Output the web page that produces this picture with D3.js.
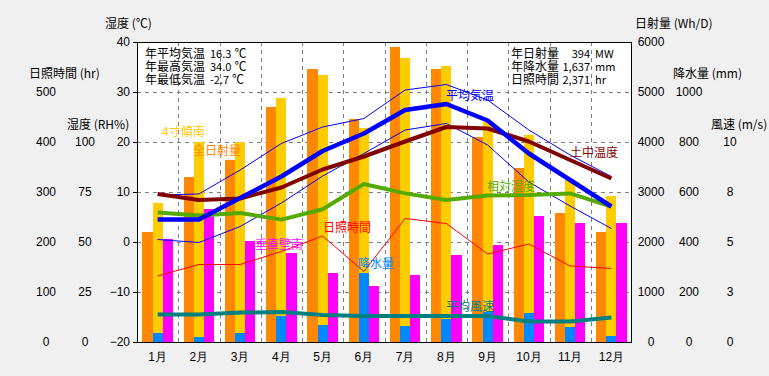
<!DOCTYPE html>
<html>
<head>
<meta charset="utf-8">
<script src="https://cdn.jsdelivr.net/npm/d3@7"></script>
<style>
  body { margin: 0; background: #f0f0f0; }
  svg { display: block; font-family: "Noto Sans CJK JP", "DejaVu Sans", sans-serif; font-size: 12px; }
</style>
</head>
<body>
<div id="wrapper"></div>
<script>
// 月ごとのデータ
const months = ["1月","2月","3月","4月","5月","6月","7月","8月","9月","10月","11月","12月"];
const radGlobal = [2210, 3310, 3640, 4710, 5460, 4460, 5910, 5460, 4110, 3490, 2590, 2210]; // 全日射量
const radTilt   = [2790, 4010, 4010, 4890, 5340, 4290, 5690, 5520, 4410, 4140, 3260, 2930]; // 4寸傾南
const radWall   = [2060, 2660, 2030, 1790, 1390, 1120, 1340, 1740, 1940, 2530, 2390, 2390]; // 垂直壁南
const precip    = [37, 21, 37, 105, 68, 277, 64, 92, 120, 117, 61, 24];                     // 降水量
const sunshine  = [132, 155, 155, 181, 212, 141, 247, 237, 176, 196, 152, 147];             // 日照時間
const tAvg  = [4.5, 4.5, 8.8, 13.1, 18.2, 21.7, 26.4, 27.6, 24.3, 17.7, 12.4, 7.1];
const tMax  = [9.4, 9.6, 14.4, 19.7, 23.0, 24.7, 30.4, 31.5, 28.4, 22.4, 17.4, 13.1];
const tMin  = [0.5, -0.1, 3.1, 7.8, 13.2, 17.7, 22.4, 23.7, 19.4, 12.0, 7.2, 2.7];
const tSoil = [9.6, 8.4, 8.7, 10.9, 14.5, 17.1, 20.1, 23.0, 22.7, 20.1, 16.4, 12.7];
const rh    = [64.7, 63.2, 64.5, 61.2, 66.4, 79.0, 74.3, 71.0, 73.2, 73.5, 74.3, 67.7];
const wind  = [1.38, 1.38, 1.47, 1.5, 1.35, 1.3, 1.3, 1.3, 1.3, 1.02, 1.02, 1.22];

// 軸の目盛り
const tempTicks = [-20, -10, 0, 10, 20, 30, 40];
const hrTicks = [0, 100, 200, 300, 400, 500];
const rhTicks = [0, 25, 50, 75, 100];
const radTicks = [0, 1000, 2000, 3000, 4000, 5000, 6000];
const preTicks = [0, 200, 400, 600, 800, 1000];
const windTicks = [0, 2.5, 5, 7.5, 10];

const statsLeft = [["年平均気温", "16.3", "℃"], ["年最高気温", "34.0", "℃"], ["年最低気温", "-2.7", "℃"]];
const statsRight = [["年日射量", "394", "MW"], ["年降水量", "1,637", "mm"], ["日照時間", "2,371", "hr"]];

const dim = { width: 769, height: 376, left: 137, right: 632, top: 42, bottom: 342 };

const svg = d3.select("#wrapper").append("svg")
  .attr("width", dim.width).attr("height", dim.height);

const x = d3.scaleBand().domain(months).range([dim.left, dim.right]);
const xc = d => x(d) + x.bandwidth() / 2;
const xs = d3.scaleBand().domain(["g", "t", "w"]).range([0, x.bandwidth()]).paddingOuter(0.54);

const yT = d3.scaleLinear().domain([-20, 40]).range([dim.bottom, dim.top]);
const yRH = d3.scaleLinear().domain([0, 100]).range([dim.bottom, 142]);
const yHr = d3.scaleLinear().domain([0, 500]).range([dim.bottom, 92]);
const yRad = d3.scaleLinear().domain([0, 6000]).range([dim.bottom, dim.top]);
const yPre = d3.scaleLinear().domain([0, 1000]).range([dim.bottom, 92]);
const yWind = d3.scaleLinear().domain([0, 10]).range([dim.bottom, 142]);

// 描画領域
svg.append("rect")
  .attr("x", dim.left).attr("y", dim.top)
  .attr("width", dim.right - dim.left).attr("height", dim.bottom - dim.top)
  .attr("fill", "white");

// グリッド
const grid = svg.append("g").attr("stroke", "#808080").attr("stroke-dasharray", "4,4");
grid.selectAll("line.h").data(tempTicks.slice(1, -1)).join("line")
  .attr("x1", dim.left).attr("x2", dim.right)
  .attr("y1", d => Math.round(yT(d)) + 0.5).attr("y2", d => Math.round(yT(d)) + 0.5);
grid.selectAll("line.v").data(months.slice(1)).join("line")
  .attr("x1", d => Math.round(x(d)) + 0.5).attr("x2", d => Math.round(x(d)) + 0.5)
  .attr("y1", dim.top).attr("y2", dim.bottom);

// 棒グラフ
function bars(data, key, color, scale) {
  svg.append("g").selectAll("rect").data(data).join("rect")
    .attr("x", (d, i) => x(months[i]) + xs(key))
    .attr("width", xs.bandwidth())
    .attr("y", d => scale(d))
    .attr("height", d => dim.bottom - scale(d))
    .attr("fill", color)
    .attr("shape-rendering", "crispEdges");
}
bars(radGlobal, "g", "#ff8800", yRad);
bars(radTilt, "t", "#ffcc00", yRad);
bars(radWall, "w", "#ff00ff", yRad);
bars(precip, "t", "#0088ff", yPre);

// 折れ線
function drawLine(data, scale, color, width) {
  const line = d3.line()
    .x((d, i) => xc(months[i]))
    .y(d => scale(d));
  svg.append("path")
    .attr("d", line(data))
    .attr("fill", "none")
    .attr("stroke", color)
    .attr("stroke-width", width)
    .attr("stroke-linejoin", "round");
}
drawLine(sunshine, yHr, "#ff0000", 1);
drawLine(tMax, yT, "#0000ff", 1);
drawLine(tMin, yT, "#0000ff", 1);
drawLine(wind, yWind, "#008080", 4);
drawLine(rh, yRH, "#55aa00", 4);
drawLine(tSoil, yT, "#800000", 4);
drawLine(tAvg, yT, "#0000ff", 4.5);

// 枠線
svg.append("rect")
  .attr("x", dim.left + 0.5).attr("y", dim.top + 0.5)
  .attr("width", dim.right - dim.left - 1).attr("height", dim.bottom - dim.top)
  .attr("fill", "none").attr("stroke", "black");

// 温度軸
const tAxis = svg.append("g")
  .attr("transform", `translate(${dim.left},0)`)
  .call(d3.axisLeft(yT).tickValues(tempTicks).tickSize(4).tickPadding(3).tickFormat(d => d < 0 ? "\u2212" + (-d) : d));
tAxis.select(".domain").remove();
tAxis.selectAll("text").attr("font-size", 12).attr("font-family", null).attr("fill", "black");

// 他の目盛り列
function valueColumn(scale, ticks, cx, fmt) {
  const g = svg.append("g")
    .attr("transform", `translate(${cx},0)`)
    .call(d3.axisLeft(scale).tickValues(ticks).tickSize(0).tickFormat(fmt || (d => d)));
  g.select(".domain").remove();
  g.selectAll(".tick line").remove();
  g.selectAll("text").attr("x", 0).attr("text-anchor", "middle")
    .attr("font-size", 12).attr("font-family", null).attr("fill", "black");
}
valueColumn(yHr, hrTicks, 46);
valueColumn(yRH, rhTicks, 85);
valueColumn(yRad, radTicks, 651);
valueColumn(yPre, preTicks, 689);
valueColumn(yWind, windTicks, 730, d => Math.round(d));

// 月ラベル
const xAxis = svg.append("g")
  .attr("transform", `translate(0,${dim.bottom})`)
  .call(d3.axisBottom(x).tickSize(0).tickPadding(10));
xAxis.select(".domain").remove();
xAxis.selectAll("text").attr("font-size", 12).attr("font-family", null).attr("fill", "black");

// 軸タイトル
const titles = [
  ["湿度 (℃)", 105, 24], ["日照時間 (hr)", 29, 74], ["湿度 (RH%)", 67, 125],
  ["日射量 (Wh/D)", 635, 24], ["降水量 (mm)", 673, 74], ["風速 (m/s)", 711, 125]
];
svg.append("g").selectAll("text").data(titles).join("text")
  .attr("x", d => d[1]).attr("y", d => d[2])
  .attr("dy", "0.35em")
  .text(d => d[0]);

// 統計値
const st = svg.append("g");
statsLeft.forEach((s, i) => {
  const t = st.append("text").attr("x", 145).attr("y", 54 + i * 13).attr("dy", "0.35em");
  t.append("tspan").text(s[0]);
  t.append("tspan").attr("x", 210).attr("font-size", 11).text(s[1]);
  t.append("tspan").attr("dx", 3).text(s[2]);
});
statsRight.forEach((s, i) => {
  const y = 54 + i * 13;
  st.append("text").attr("x", 511).attr("y", y).attr("dy", "0.35em").text(s[0]);
  st.append("text").attr("x", 590).attr("y", y).attr("dy", "0.35em")
    .attr("text-anchor", "end").attr("font-size", 11).text(s[1]);
  st.append("text").attr("x", 595).attr("y", y).attr("dy", "0.35em").attr("font-size", 11).text(s[2]);
});

// 系列ラベル
const seriesLabels = [
  ["平均気温", 446, 96, "#0000ff"],
  ["土中温度", 570, 153, "#800000"],
  ["相対湿度", 487, 187, "#55aa00"],
  ["4寸傾南", 162, 132, "#ffcc00"],
  ["全日射量", 193, 151, "#ff8800"],
  ["垂直壁南", 255, 245, "#ff00ff"],
  ["日照時間", 323, 228, "#ff0000"],
  ["降水量", 358, 264, "#0088ff"],
  ["平均風速", 446, 307, "#008080"]
];
svg.append("g").selectAll("text").data(seriesLabels).join("text")
  .attr("x", d => d[1]).attr("y", d => d[2])
  .attr("dy", "0.35em")
  .attr("fill", d => d[3])
  .text(d => d[0]);
</script>
</body>
</html>
